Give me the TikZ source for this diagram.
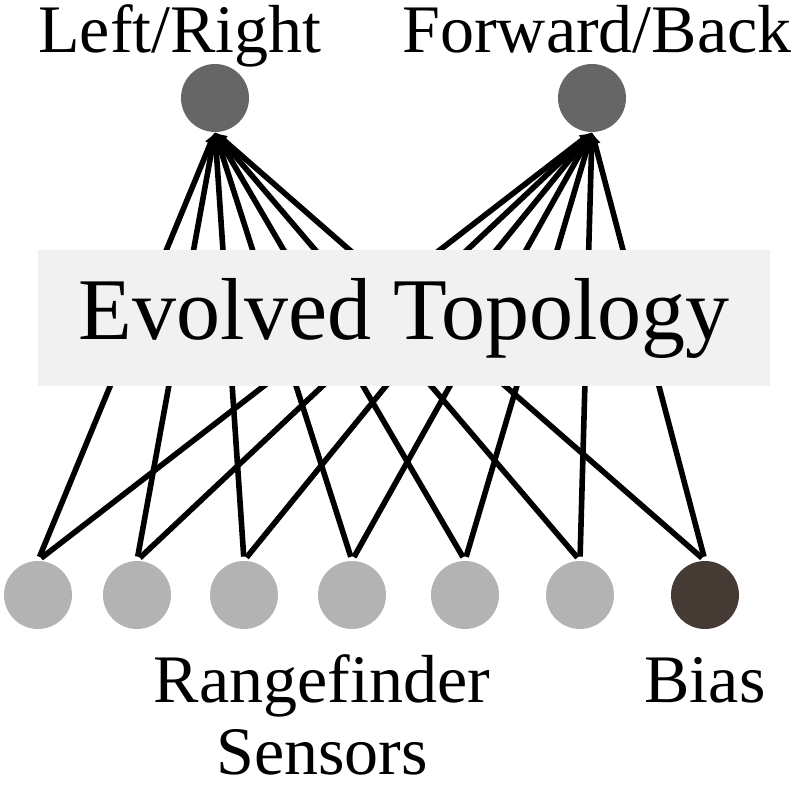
\documentclass[tikz,border=0pt]{standalone}
\usepackage{fontspec}
\setmainfont{Liberation Serif}
\usetikzlibrary{arrows.meta}
\definecolor{outgray}{HTML}{666666}
\definecolor{ingray}{HTML}{B3B3B3}
\definecolor{biasbrown}{HTML}{463A35}
\definecolor{boxgray}{HTML}{F1F1F1}

\begin{document}
\begin{tikzpicture}[x=0.5pt,y=-0.5pt]
  \tikzset{neuronstyle/.style={circle, minimum size=34pt, inner sep=0pt},
    linkstyle/.style={line width=2.8pt, -{Latex[length=6pt,width=6pt]}, shorten <=2pt},
    labelstyle/.style={font=\fontsize{34}{36}\selectfont, inner sep=0pt, anchor=base, align=center}}
  \useasboundingbox (0,0) rectangle (800,787);
  % Output neurons
  \node[neuronstyle, fill=outgray] (leftright) at (215,98) {};
  \node[neuronstyle, fill=outgray] (forwardback) at (592,98) {};
  % Sensor inputs and the bias
  \foreach \n/\x in {1/38,2/137,3/244,4/352,5/465,6/580}
    \node[neuronstyle, fill=ingray] (sensor\n) at (\x,595) {};
  \node[neuronstyle, fill=biasbrown] (bias) at (705,595) {};
  % Every input feeds both outputs
  \foreach \s in {sensor1,sensor2,sensor3,sensor4,sensor5,sensor6,bias}
    \foreach \o in {leftright,forwardback}
      \draw[linkstyle] (\s.north) -- (\o.south);
  % Box over the hidden part
  \node[fill=boxgray, minimum width=366pt, minimum height=68pt, inner sep=0pt,
    font=\fontsize{44}{48}\selectfont] (topology) at (404,318) {Evolved Topology};
  % Labels
  \node[labelstyle] (leftrightlabel) at (180,53) {Left/Right};
  \node[labelstyle] (forwardbacklabel) at (597,53) {Forward/Back};
  \node[labelstyle] (sensorlabel) at (322,774) {Rangefinder\\Sensors};
  \node[labelstyle] (biaslabel) at (705,702) {Bias};
\end{tikzpicture}
\end{document}
